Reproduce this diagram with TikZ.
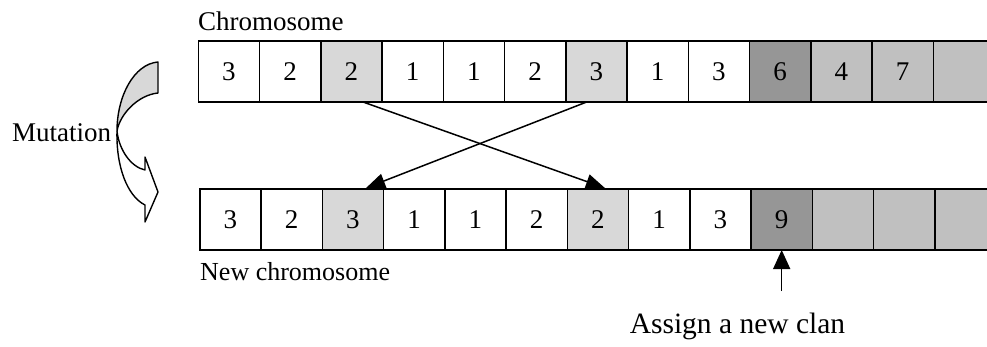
\documentclass[tikz,border=0pt]{standalone}
\usepackage{fontspec}
\setmainfont{Liberation Serif}
\usetikzlibrary{arrows.meta,calc}

\definecolor{swapgray}{HTML}{D8D8D8}
\definecolor{clangray}{HTML}{C0C0C0}
\definecolor{newgray}{HTML}{969696}

\tikzset{
  gene/.style={draw=black, line width=1.5pt, minimum width=61.25pt, minimum height=61pt,
    inner sep=0pt, outer sep=0pt, anchor=north west, font=\fontsize{27}{30}\selectfont},
  label/.style={inner sep=0pt, font=\fontsize{27}{30}\selectfont},
  link/.style={line width=1.5pt, -{Triangle[length=19pt,width=15pt]}},
  bend arrow/.style={draw=black, line width=1.4pt, line join=round}
}

\begin{document}
\begin{tikzpicture}[x=1pt, y=-1pt]
\useasboundingbox (0,0) rectangle (987,346);
\clip (0,0) rectangle (987,346);

% original chromosome
\foreach \v/\c [count=\i] in {3/white,2/white,2/swapgray,1/white,1/white,2/white,3/swapgray,1/white,3/white,6/newgray,4/clangray,7/clangray,/clangray}
  \node[gene, fill=\c] (t\i) at ({198.3+(\i-1)*61.25}, 41) {\v};

% mutated chromosome
\foreach \v/\c [count=\i] in {3/white,2/white,3/swapgray,1/white,1/white,2/white,2/swapgray,1/white,3/white,9/newgray,/clangray,/clangray,/clangray}
  \node[gene, fill=\c] (b\i) at ({199.8+(\i-1)*61.25}, 189) {\v};

% titles
\node[label, anchor=base west] (ttl) at (198, 30.5) {Chromosome};
\node[label, anchor=base west, font=\fontsize{26}{30}\selectfont] (btl) at (200, 280) {New chromosome};
\node[label, anchor=base west] (mut) at (12, 141.5) {Mutation};
\node[label, anchor=base, font=\fontsize{29.5}{32}\selectfont] (clan) at (737.5, 333) {Assign a new clan};

% swapped genes
\draw[link, shorten >=3pt] ($(t3.south west)!0.69!(t3.south east)$) -- ($(b7.north west)!0.66!(b7.north east)$);
\draw[link, shorten >=3pt] ($(t7.south west)!0.34!(t7.south east)$) -- ($(b3.north west)!0.67!(b3.north east)$);

% new clan pointer
\coordinate (ctail) at ($(b10.south)+(0,41)$);
\draw[link, -{Triangle[length=19pt,width=17pt]}] (ctail) -- (b10.south);

% curved mutation arrow: shaded back band, then the white front band with its head
\coordinate (fold) at (117,131);
\filldraw[bend arrow, fill=swapgray]
  (158,62) .. controls (134,64) and (117,96) .. (fold)
  .. controls (120,114) and (138,95) .. (158,93) -- cycle;
\filldraw[bend arrow, fill=white]
  (fold) .. controls (116,166) and (127,196) .. (145,205)
  -- (145,222) -- (158,192) -- (145,157) -- (145,170)
  .. controls (131,167) and (119,150) .. (fold);
\end{tikzpicture}
\end{document}
